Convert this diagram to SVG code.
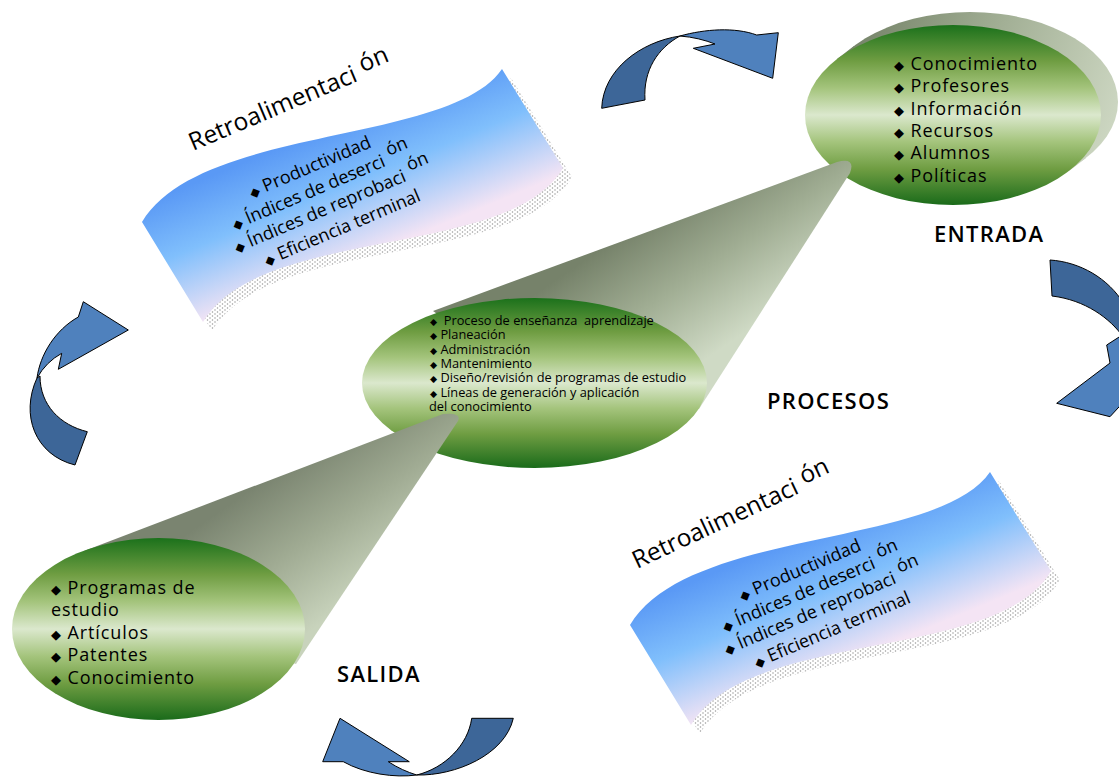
<svg xmlns="http://www.w3.org/2000/svg" width="1119" height="778" viewBox="0 0 1119 778">
  <defs>
    <style>
      .t { font-family: 'Open Sans', 'Liberation Sans', 'DejaVu Sans', sans-serif; fill: #000; }
      .lbl { font-size: 22px; letter-spacing: 1.3px; font-weight: 600; }
      .lst { font-size: 18px; letter-spacing: 0.9px; }
      .sm { font-size: 12.8px; }
      .wv { font-size: 18px; }
      .ttl { font-size: 24.5px; }
      .b { font-size: 0.72em; font-family: 'DejaVu Sans', sans-serif; }
      .arr-l { fill: #4f81bd; stroke: #000; stroke-width: 1; stroke-linejoin: round; }
      .arr-d { fill: #3d6698; stroke: #000; stroke-width: 1; stroke-linejoin: round; }
      .ell { fill: url(#greenFill); }
    </style>
    <linearGradient id="greenFill" x1="0" y1="0" x2="0" y2="1">
      <stop offset="0" stop-color="#1b711b"/>
      <stop offset="0.2" stop-color="#6f9d42"/>
      <stop offset="0.35" stop-color="#a4c47c"/>
      <stop offset="0.5" stop-color="#dbe8cd"/>
      <stop offset="0.65" stop-color="#a4c47c"/>
      <stop offset="0.8" stop-color="#6f9d42"/>
      <stop offset="1" stop-color="#1a6b1a"/>
    </linearGradient>
    <linearGradient id="backFill" gradientUnits="userSpaceOnUse" x1="860" y1="30" x2="1115" y2="120">
      <stop offset="0" stop-color="#77856a"/>
      <stop offset="0.5" stop-color="#a3b096"/>
      <stop offset="1" stop-color="#ccd6c1"/>
    </linearGradient>
    <linearGradient id="coneUp" gradientUnits="userSpaceOnUse" x1="600" y1="250" x2="684" y2="374">
      <stop offset="0" stop-color="#76826a"/>
      <stop offset="0.5" stop-color="#a1ae94"/>
      <stop offset="1" stop-color="#cfdac5"/>
    </linearGradient>
    <linearGradient id="coneLow" gradientUnits="userSpaceOnUse" x1="250" y1="490" x2="336" y2="613">
      <stop offset="0" stop-color="#7a8470"/>
      <stop offset="0.5" stop-color="#a0ab93"/>
      <stop offset="1" stop-color="#c8d3bc"/>
    </linearGradient>
    <linearGradient id="waveFill" gradientUnits="userSpaceOnUse" x1="93" y1="225" x2="144" y2="348">
      <stop offset="0" stop-color="#5a99f5"/>
      <stop offset="0.45" stop-color="#80bffc"/>
      <stop offset="1" stop-color="#f4e4f4"/>
    </linearGradient>
    <pattern id="dots" patternUnits="userSpaceOnUse" width="5" height="4">
      <circle cx="1" cy="1" r="0.75" fill="#999"/>
      <circle cx="3.5" cy="3" r="0.75" fill="#999"/>
    </pattern>
    <path id="waveShape" d="M142,222 C200,125 450,145 502,69 L563,168 C510,260 260,225 203,322 Z"/>
  </defs>

  <rect width="1119" height="778" fill="#fff"/>

  <!-- ENTRADA with the extruded back of its ellipse -->
  <g id="entrada">
    <g fill="url(#backFill)">
      <ellipse cx="970" cy="102" rx="148" ry="90"/>
      <polygon points="837,59 1069,171 1086,158 854,46"/>
    </g>
    <ellipse class="ell" cx="953" cy="115" rx="148" ry="90"/>
    <g class="t lst">
      <text x="894" y="70"><tspan class="b">◆</tspan> Conocimiento</text>
      <text x="894" y="92.3"><tspan class="b">◆</tspan> Profesores</text>
      <text x="894" y="114.6"><tspan class="b">◆</tspan> Información</text>
      <text x="894" y="136.9"><tspan class="b">◆</tspan> Recursos</text>
      <text x="894" y="159.2"><tspan class="b">◆</tspan> Alumnos</text>
      <text x="894" y="181.5"><tspan class="b">◆</tspan> Políticas</text>
    </g>
    <text class="t lbl" x="934" y="242">ENTRADA</text>
  </g>

  <!-- cone links between the three stages -->
  <g id="connectors">
    <path d="M433,311 L837,162 Q856,157 850,173 L699,409 L535,383 Z" fill="url(#coneUp)"/>
  </g>

  <g id="procesos">
    <ellipse class="ell" cx="534.5" cy="383" rx="172.5" ry="85"/>
    <g class="t sm">
      <text x="430" y="325" style="white-space:pre"><tspan class="b">◆</tspan>  Proceso de enseñanza  aprendizaje</text>
      <text x="430" y="339.3"><tspan class="b">◆</tspan> Planeación</text>
      <text x="430" y="353.6"><tspan class="b">◆</tspan> Administración</text>
      <text x="430" y="367.9"><tspan class="b">◆</tspan> Mantenimiento</text>
      <text x="430" y="382.2"><tspan class="b">◆</tspan> Diseño/revisión de programas de estudio</text>
      <text x="430" y="396.5"><tspan class="b">◆</tspan> Líneas de generación y aplicación</text>
      <text x="429" y="410.8">del conocimiento</text>
    </g>
    <text class="t lbl" x="767" y="409">PROCESOS</text>
  </g>

  <g id="connectors-2">
    <path d="M84,551 L443,414 Q462,412 458,421 L296,664 L158,629 Z" fill="url(#coneLow)"/>
  </g>

  <g id="salida">
    <ellipse class="ell" cx="158.5" cy="629" rx="146.5" ry="91"/>
    <g class="t lst">
      <text x="51" y="593.5"><tspan class="b">◆</tspan> Programas de</text>
      <text x="51" y="616">estudio</text>
      <text x="51" y="638.5"><tspan class="b">◆</tspan> Artículos</text>
      <text x="51" y="661"><tspan class="b">◆</tspan> Patentes</text>
      <text x="51" y="683.5"><tspan class="b">◆</tspan> Conocimiento</text>
    </g>
    <text class="t lbl" x="337" y="682">SALIDA</text>
  </g>

  <!-- feedback banner, upper left -->
  <g id="retro-1">
    <use href="#waveShape" transform="translate(9,9)" fill="url(#dots)"/>
    <use href="#waveShape" fill="url(#waveFill)"/>
    <text class="t ttl" x="193" y="151" transform="rotate(-23 193 151)">Retroalimentaci<tspan dx="7" dy="-6">ón</tspan></text>
    <g class="t wv">
      <text x="252" y="198" transform="rotate(-23 252 198)"><tspan class="b">◆</tspan> Productividad</text>
      <text x="235" y="230" transform="rotate(-23 235 230)"><tspan class="b">◆</tspan> Índices de deserci<tspan dx="6" dy="-8">ón</tspan></text>
      <text x="237" y="253" transform="rotate(-23 237 253)"><tspan class="b">◆</tspan> Índices de reprobaci<tspan dx="6" dy="-8">ón</tspan></text>
      <text x="267" y="266" transform="rotate(-23 267 266)"><tspan class="b">◆</tspan> Eficiencia terminal</text>
    </g>
  </g>

  <!-- feedback banner, lower right -->
  <g id="retro-2" transform="translate(488,403)">
    <use href="#waveShape" transform="translate(9,9)" fill="url(#dots)"/>
    <use href="#waveShape" fill="url(#waveFill)"/>
    <text class="t ttl" x="149" y="166" transform="rotate(-25 149 166)">Retroalimentaci<tspan dx="7" dy="-6">ón</tspan></text>
    <g class="t wv">
      <text x="254" y="198" transform="rotate(-23 254 198)"><tspan class="b">◆</tspan> Productividad</text>
      <text x="237" y="229" transform="rotate(-23 237 229)"><tspan class="b">◆</tspan> Índices de deserci<tspan dx="6" dy="-8">ón</tspan></text>
      <text x="239" y="252" transform="rotate(-23 239 252)"><tspan class="b">◆</tspan> Índices de reprobaci<tspan dx="6" dy="-8">ón</tspan></text>
      <text x="269" y="265" transform="rotate(-23 269 265)"><tspan class="b">◆</tspan> Eficiencia terminal</text>
    </g>
  </g>

  <!-- curved cycle arrows -->
  <g id="arrow-top">
    <path class="arr-d" d="M601.7,108.3 C603,70 640,42 680,36 C658,48 643,70 645,100 Z"/>
    <path class="arr-l" d="M680,36 C705,29 735,27 756.7,35 L778.3,32.7 L772.7,78.3 L693.3,48.3 L715,44 C705,40 693,37 680,36 Z"/>
  </g>
  <g id="arrow-right">
    <path class="arr-d" d="M1050,260 C1080,262 1108,278 1124,304 L1124,338 C1110,318 1085,300 1052,296 Z"/>
    <path class="arr-l" d="M1106.7,345 L1110,363 L1056.7,403.3 L1110,416.7 L1130,395 L1130,330 Z"/>
  </g>
  <g id="arrow-bottom">
    <path class="arr-d" d="M416.7,775 C455,776 505,755 513.3,718.3 L471.7,718.3 C468,745 445,768 416.7,775 Z"/>
    <path class="arr-l" d="M340,718.3 L409.3,761.7 L388.3,761.7 C398,768 407,772 416.7,775 C395,778 365,774 343.3,761.7 L322.7,761.7 Z"/>
  </g>
  <g id="arrow-left">
    <path class="arr-d" d="M37,378 C20,415 35,455 75,465 L87.3,431.7 C60,425 40,405 40,376 Z"/>
    <path class="arr-l" d="M78.3,317 L83.3,301.7 L128.3,330 L58.3,369.3 L61.7,353.3 Q46,362 37,378 C40,355 55,330 78.3,317 Z"/>
  </g>
</svg>
